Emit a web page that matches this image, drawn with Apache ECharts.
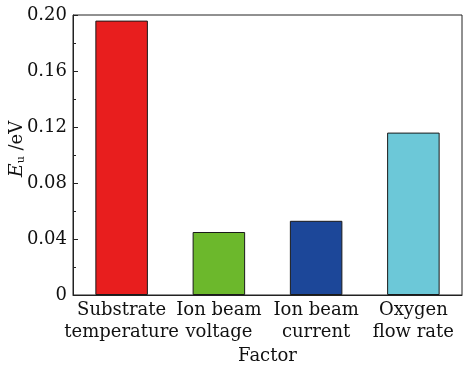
<!DOCTYPE html>
<html>
<head>
<meta charset="utf-8">
<script src="https://cdn.jsdelivr.net/npm/echarts@6/dist/echarts.min.js"></script>
<style>html,body{margin:0;padding:0;background:#fff;}#c{width:466px;height:369px;}</style>
</head>
<body>
<div id="c"></div>
<script>
const categories = ["Substrate\ntemperature", "Ion beam\nvoltage", "Ion beam\ncurrent", "Oxygen\nflow rate"];
const values = [0.196, 0.045, 0.053, 0.116];
const barColors = ["#e81e1e", "#6cb82c", "#1c4799", "#6cc8d8"];
const yTicks = [0, 0.04, 0.08, 0.12, 0.16, 0.20];

const chart = echarts.init(document.getElementById('c'));
const font = "DejaVu Serif";
chart.setOption({
  animation: false,
  grid: { left: 73, right: 4, top: 15, bottom: 74, show: true, borderColor: '#222', borderWidth: 1, containLabel: false, outerBoundsMode: 'none' },
  xAxis: [{
    type: 'category',
    data: categories,
    name: 'Factor',
    nameLocation: 'middle',
    nameGap: 52,
    nameMoveOverlap: false,
    nameTextStyle: { fontFamily: font, fontSize: 18, color: '#111' },
    axisLine: { lineStyle: { color: '#222', width: 1 } },
    axisTick: { inside: true, length: 5, lineStyle: { color: '#222' } },
    axisLabel: { interval: 0, hideOverlap: false, fontFamily: font, fontSize: 18, color: '#111', lineHeight: 22, margin: 4 }
  }, {
    type: 'category',
    data: categories,
    position: 'bottom',
    z: 5,
    axisLine: { show: false },
    axisTick: { inside: true, alignWithLabel: true, length: 4, lineStyle: { color: '#222' } },
    axisLabel: { show: false }
  }],
  yAxis: {
    type: 'value',
    min: yTicks[0],
    max: yTicks[yTicks.length - 1],
    interval: 0.04,
    name: '{i|E}{s|u} /eV',
    nameLocation: 'middle',
    nameRotate: 90,
    nameGap: 46,
    nameMoveOverlap: false,
    nameTextStyle: {
      fontFamily: font, fontSize: 18, color: '#111', padding: [0, 0, 0, 12],
      rich: {
        i: { fontFamily: font, fontStyle: 'italic', fontSize: 19, color: '#111' },
        s: { fontFamily: font, fontSize: 11, color: '#111', verticalAlign: 'bottom', padding: [8, 0, 0, 0] }
      }
    },
    axisLine: { show: true, lineStyle: { color: '#222', width: 1 } },
    axisTick: { show: true, inside: true, length: 5, lineStyle: { color: '#222' } },
    minorTick: { show: true, splitNumber: 2, length: 3, lineStyle: { color: '#222' } },
    splitLine: { show: false },
    axisLabel: {
      fontFamily: font, fontSize: 18, color: '#111', margin: 6,
      formatter: v => v === 0 ? '0' : v.toFixed(2)
    }
  },
  series: [{
    type: 'bar',
    xAxisIndex: 0,
    data: values.map((v, i) => ({ value: v, itemStyle: { color: barColors[i] } })),
    barWidth: '54%',
    itemStyle: { borderColor: '#1a1a1a', borderWidth: 1 }
  }]
});
</script>
</body>
</html>
